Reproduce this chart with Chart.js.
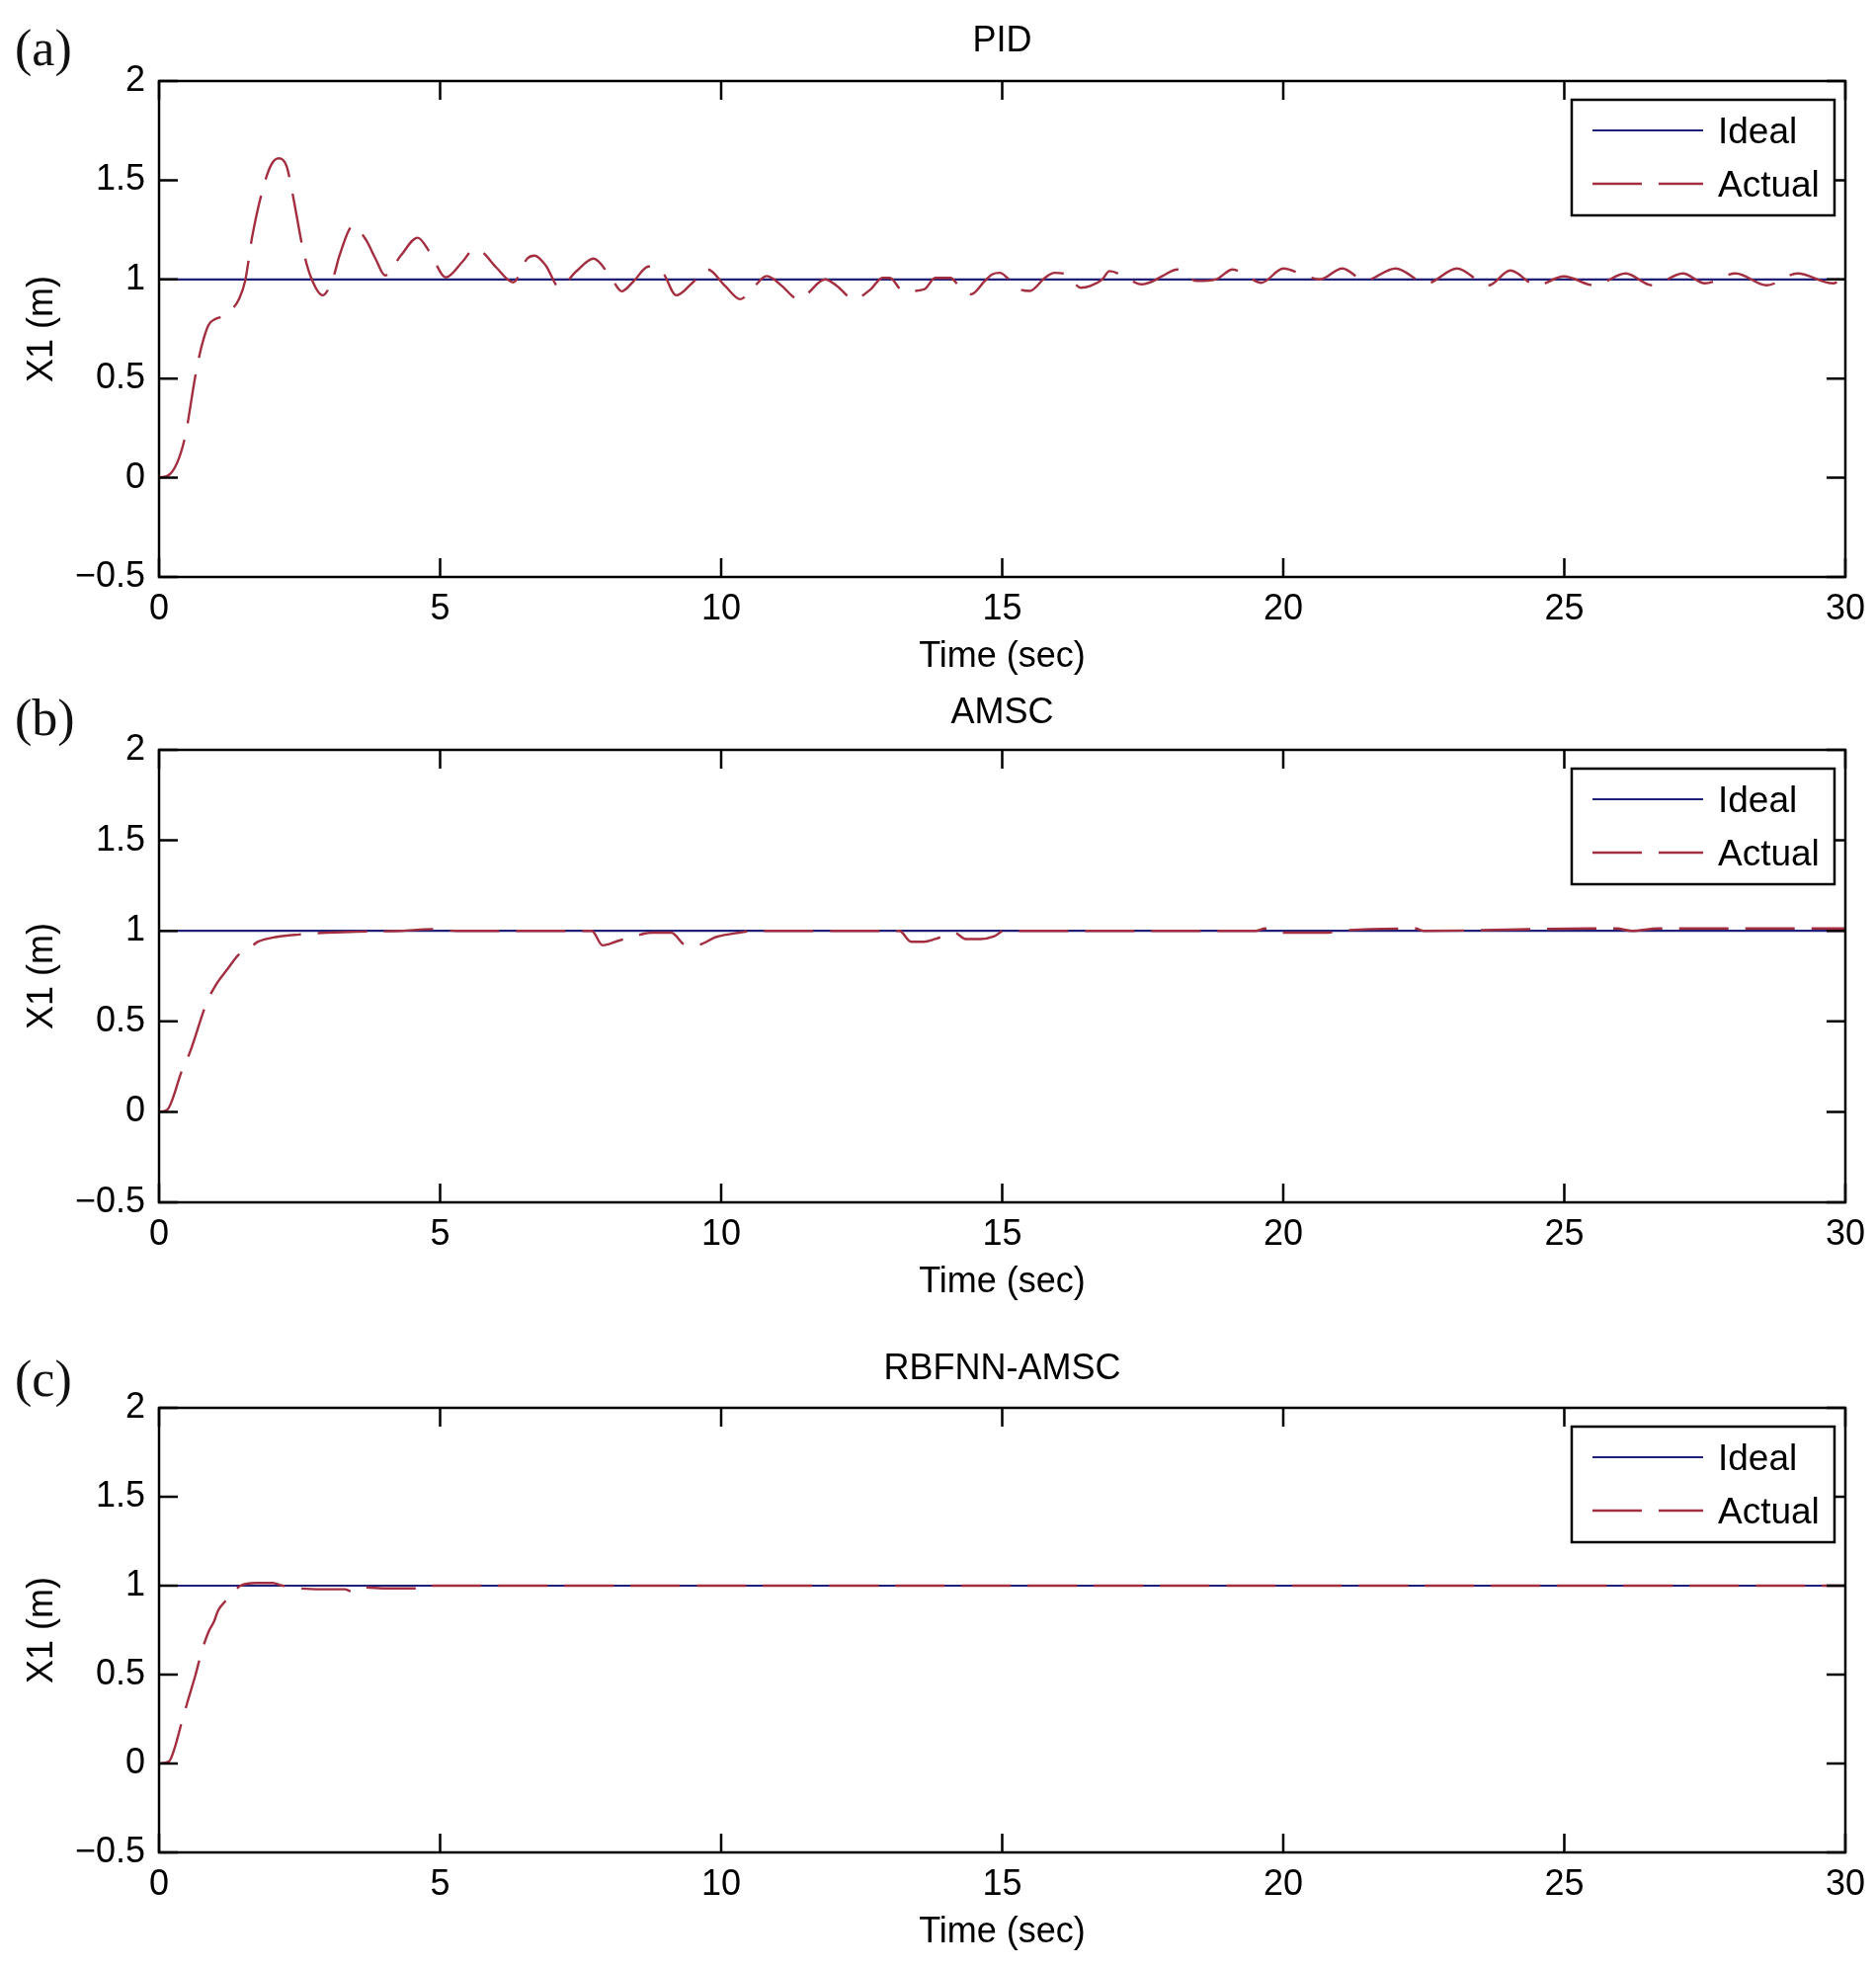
<!DOCTYPE html>
<html>
<head>
<meta charset="utf-8">
<title>X1 tracking: PID, AMSC, RBFNN-AMSC</title>
<script src="https://cdn.jsdelivr.net/npm/chart.js@4.4.1/dist/chart.umd.min.js"></script>
<style>
  html, body { margin: 0; padding: 0; background: #fff; }
  #page { position: relative; width: 1899px; height: 1993px; overflow: hidden; }
  canvas { position: absolute; left: 0; }
  .tag { position: absolute; left: 15px; font: 52px/1 'Liberation Serif', 'Times New Roman', serif; color: #111; }
</style>
</head>
<body>
<div id="page">
  <canvas id="chartA" width="1899" height="690" style="top:0px"></canvas>
  <canvas id="chartB" width="1899" height="640" style="top:690px"></canvas>
  <canvas id="chartC" width="1899" height="653" style="top:1340px"></canvas>
  <div class="tag" style="top:23px">(a)</div>
  <div class="tag" style="top:701px">(b)</div>
  <div class="tag" style="top:1370px">(c)</div>
</div>
<script>
// Axis ticks
const timeTicks = [0, 5, 10, 15, 20, 25, 30];
const x1Ticks = [-0.5, 0, 0.5, 1, 1.5, 2];

const panelTitles = ['PID', 'AMSC', 'RBFNN-AMSC'];
const seriesLabels = ['Ideal', 'Actual'];

// Ideal reference: constant 1 m
const idealTime = [0, 30];
const idealX1 = [1, 1];

// (a) PID response
const pidTime = [0, 0.2, 0.45, 0.65, 0.75, 0.88, 1.0, 1.15, 1.3, 1.42,
    1.53, 1.66, 1.86, 2.0, 2.13, 2.27, 2.37, 2.57, 2.71, 2.91,
    3.11, 3.21, 3.45, 3.68, 3.85, 4.02, 4.3, 4.6, 4.83, 5.1,
    5.4, 5.6, 5.74, 6.0, 6.3, 6.55, 6.68, 6.88, 7.12, 7.42,
    7.73, 8.06, 8.23, 8.44, 8.71, 8.97, 9.2, 9.49, 9.76, 10.07,
    10.34, 10.57, 10.81, 10.94, 11.08, 11.38, 11.52, 11.85, 12.06, 12.36,
    12.66, 12.87, 13.0, 13.24, 13.61, 13.81, 14.08, 14.21, 14.45, 14.69,
    14.82, 14.96, 15.09, 15.26, 15.49, 15.76, 15.93, 16.14, 16.4, 16.57,
    16.78, 16.91, 17.21, 17.48, 17.69, 17.85, 18.12, 18.46, 18.8, 19.1,
    19.4, 19.61, 20.0, 20.42, 20.65, 21.05, 21.45, 22.0, 22.55, 23.09,
    23.65, 24.04, 24.51, 24.99, 25.54, 26.09, 26.56, 27.11, 27.5, 28.05,
    28.6, 29.15, 29.78, 30];
const pidX1 = [0, 0.02, 0.19, 0.52, 0.655, 0.77, 0.8, 0.815, 0.85, 0.9,
    0.99, 1.22, 1.47, 1.58, 1.61, 1.57, 1.44, 1.14, 1.005, 0.92,
    1.02, 1.12, 1.27, 1.2, 1.105, 1.02, 1.12, 1.21, 1.13, 1.01,
    1.09, 1.15, 1.14, 1.06, 0.985, 1.105, 1.12, 1.07, 0.96, 1.04,
    1.105, 1.0, 0.94, 0.99, 1.065, 1.03, 0.92, 0.983, 1.05, 0.967,
    0.9, 0.958, 1.017, 1.0, 0.967, 0.9, 0.925, 1.0, 0.967, 0.9,
    0.95, 1.008, 1.008, 0.94, 0.95, 1.008, 1.008, 0.975, 0.925, 0.992,
    1.025, 1.033, 1.008, 0.958, 0.942, 1.008, 1.033, 1.025, 0.958, 0.967,
    1.0, 1.042, 1.008, 0.975, 0.992, 1.017, 1.05, 0.992, 1.0, 1.05,
    1.008, 0.983, 1.055, 1.015, 1.0, 1.055, 0.995, 1.055, 0.98, 1.055,
    0.97, 1.045, 0.97, 1.015, 0.97, 1.03, 0.97, 1.03, 0.98, 1.03,
    0.97, 1.03, 0.98, 1.015];

// (b) AMSC response
const amscTime = [0, 0.14, 0.41, 0.55, 0.85, 1.02, 1.22, 1.42, 1.59, 1.76,
    2.1, 2.5, 2.98, 3.5, 4.3, 4.86, 5.3, 7.7, 7.89, 8.17,
    8.57, 8.77, 9.11, 9.38, 9.55, 9.92, 10.32, 10.6, 13.17, 13.38,
    13.61, 13.81, 14.15, 14.35, 14.62, 14.86, 15.03, 19.5, 19.68, 20.02,
    20.8, 21.0, 22.35, 22.5, 25.46, 25.93, 26.2, 26.67, 30];
const amscX1 = [0, 0.01, 0.23, 0.33, 0.605, 0.706, 0.79, 0.87, 0.9, 0.94,
    0.967, 0.98, 0.99, 0.995, 1.0, 1.01, 1.0, 1.0, 0.92, 0.945,
    0.98, 0.99, 0.99, 0.92, 0.92, 0.967, 0.99, 1.0, 1.0, 0.94,
    0.94, 0.955, 0.99, 0.955, 0.955, 0.97, 1.0, 1.0, 1.013, 0.99,
    0.99, 1.0, 1.013, 1.0, 1.013, 1.013, 1.0, 1.013, 1.013];

// (c) RBFNN-AMSC response
const rbfTime = [0, 0.18, 0.28, 0.41, 0.51, 0.65, 0.75, 0.88, 0.98, 1.05,
    1.19, 1.39, 1.45, 1.72, 2.02, 2.2, 2.5, 2.9, 3.3, 3.44,
    3.55, 3.65, 4.04, 4.75, 4.85, 30];
const rbfX1 = [0, 0.013, 0.09, 0.24, 0.35, 0.5, 0.62, 0.74, 0.8, 0.86,
    0.916, 0.985, 1.0, 1.015, 1.015, 1.0, 0.985, 0.98, 0.98, 0.966,
    0.975, 0.99, 0.985, 0.985, 1.0, 1.0];

const FONT = "'Liberation Sans', Arial, sans-serif";
const IDEAL_COLOR = '#1f1f78';
const ACTUAL_COLOR = '#a32e40';
const TICK_LEN = 19;

function toPoints(xs, ys) {
    return xs.map((x, i) => ({ x: x, y: ys[i] }));
}

function formatTick(v) {
    return v < 0 ? '\u2212' + Math.abs(v) : String(v);
}

// MATLAB-style box, inward ticks on all four sides and a framed legend
const matlabFrame = {
    id: 'matlabFrame',
    afterDraw(chart) {
        const { ctx, chartArea: a, scales: { x, y } } = chart;
        ctx.save();
        ctx.strokeStyle = '#000';
        ctx.lineWidth = 2.5;
        ctx.strokeRect(a.left, a.top, a.width, a.height);

        ctx.beginPath();
        x.ticks.forEach(t => {
            const px = x.getPixelForValue(t.value);
            ctx.moveTo(px, a.bottom); ctx.lineTo(px, a.bottom - TICK_LEN);
            ctx.moveTo(px, a.top); ctx.lineTo(px, a.top + TICK_LEN);
        });
        y.ticks.forEach(t => {
            const py = y.getPixelForValue(t.value);
            ctx.moveTo(a.left, py); ctx.lineTo(a.left + TICK_LEN, py);
            ctx.moveTo(a.right, py); ctx.lineTo(a.right - TICK_LEN, py);
        });
        ctx.stroke();

        // legend box in the upper right corner
        const w = 266, h = 117;
        const lx = a.right - 11 - w, ly = a.top + 19;
        ctx.fillStyle = '#fff';
        ctx.fillRect(lx, ly, w, h);
        ctx.strokeRect(lx, ly, w, h);
        ctx.font = '37px ' + FONT;
        ctx.textBaseline = 'middle';
        ctx.textAlign = 'left';
        chart.data.datasets.forEach((ds, i) => {
            const yy = ly + 31 + i * 54;
            ctx.strokeStyle = ds.borderColor;
            ctx.lineWidth = ds.borderWidth;
            ctx.setLineDash(ds.borderDash || []);
            ctx.beginPath();
            ctx.moveTo(lx + 21, yy);
            ctx.lineTo(lx + 133, yy);
            ctx.stroke();
            ctx.setLineDash([]);
            ctx.fillStyle = '#000';
            ctx.fillText(ds.label, lx + 148, yy + 3);
        });
        ctx.restore();
    }
};

function buildChart(canvasId, title, time, actual, titlePad, bottomPad) {
    const ctx = document.getElementById(canvasId).getContext('2d');
    return new Chart(ctx, {
        type: 'line',
        data: {
            datasets: [{
                label: seriesLabels[0],
                data: toPoints(idealTime, idealX1),
                borderColor: IDEAL_COLOR,
                borderWidth: 2.2,
                pointRadius: 0,
                order: 1
            }, {
                label: seriesLabels[1],
                data: toPoints(time, actual),
                borderColor: ACTUAL_COLOR,
                borderWidth: 2.4,
                borderDash: [50, 17],
                pointRadius: 0,
                cubicInterpolationMode: 'monotone',
                order: 0
            }]
        },
        options: {
            responsive: false,
            animation: false,
            devicePixelRatio: 1,
            layout: { padding: { left: 0, right: 31, top: 0, bottom: bottomPad } },
            plugins: {
                legend: { display: false },
                tooltip: { enabled: false },
                title: {
                    display: true,
                    fullSize: false,
                    text: title,
                    color: '#000',
                    font: { family: FONT, size: 36, weight: 'normal', lineHeight: 1.2 },
                    padding: titlePad
                }
            },
            scales: {
                x: {
                    type: 'linear',
                    min: 0,
                    max: 30,
                    grid: { display: false, drawTicks: false },
                    border: { display: false },
                    afterBuildTicks: s => { s.ticks = timeTicks.map(v => ({ value: v })); },
                    afterFit: s => { s.height = 104; },
                    ticks: {
                        color: '#000',
                        padding: 11,
                        maxRotation: 0,
                        autoSkip: false,
                        font: { family: FONT, size: 36, lineHeight: 1.2 },
                        callback: v => formatTick(v)
                    },
                    title: {
                        display: true,
                        text: 'Time (sec)',
                        color: '#000',
                        font: { family: FONT, size: 36, lineHeight: 1.2 },
                        padding: { top: 0, bottom: 1.4 }
                    }
                },
                y: {
                    type: 'linear',
                    min: -0.5,
                    max: 2,
                    grid: { display: false, drawTicks: false },
                    border: { display: false },
                    afterBuildTicks: s => { s.ticks = x1Ticks.map(v => ({ value: v })); },
                    afterFit: s => { s.width = 161; },
                    ticks: {
                        color: '#000',
                        padding: 14,
                        autoSkip: false,
                        font: { family: FONT, size: 36, lineHeight: 1.2 },
                        callback: v => formatTick(v)
                    },
                    title: {
                        display: true,
                        text: 'X1 (m)',
                        color: '#000',
                        font: { family: FONT, size: 36, lineHeight: 1.2 },
                        padding: { top: 21.4, bottom: 0 }
                    }
                }
            }
        },
        plugins: [matlabFrame]
    });
}

buildChart('chartA', panelTitles[0], pidTime, pidX1, { top: 20.9, bottom: 17.9 }, 2);
buildChart('chartB', panelTitles[1], amscTime, amscX1, { top: 10.4, bottom: 15.4 }, 9);
buildChart('chartC', panelTitles[2], rbfTime, rbfX1, { top: 24.4, bottom: 17.4 }, 14);
</script>
</body>
</html>
